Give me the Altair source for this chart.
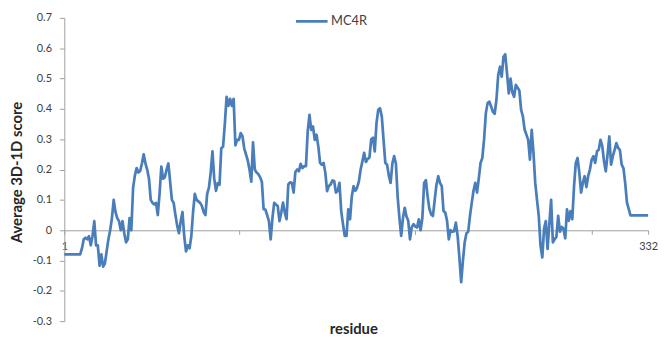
import altair as alt
import pandas as pd

# ---- data ----
residue = list(range(1, 333))
score = [
    -0.08, -0.08, -0.08, -0.08, -0.08, -0.08, -0.08, -0.08, -0.08, -0.08,
    -0.06, -0.03, -0.025, -0.03, -0.02, -0.05, -0.02, 0.03, -0.05, -0.05,
    -0.117, -0.08, -0.12, -0.11, -0.07, -0.03, 0.0, 0.04, 0.10, 0.06,
    0.04, 0.03, 0.0, 0.03, -0.01, -0.04, -0.03, 0.04, 0.0, 0.14,
    0.18, 0.205, 0.19, 0.195, 0.22, 0.25, 0.22, 0.2, 0.17, 0.1,
    0.09, 0.085, 0.09, 0.05, 0.12, 0.21, 0.17, 0.175, 0.2, 0.22,
    0.16, 0.1, 0.09, 0.05, 0.015, -0.01, 0.03, 0.06, -0.02, -0.07,
    -0.05, -0.06, -0.02, 0.06, 0.12, 0.1, 0.095, 0.09, 0.08, 0.06,
    0.05, 0.12, 0.14, 0.19, 0.26, 0.17, 0.13, 0.155, 0.15, 0.27,
    0.275, 0.35, 0.44, 0.41, 0.433, 0.41, 0.433, 0.28, 0.298, 0.298,
    0.32, 0.31, 0.27, 0.25, 0.23, 0.2, 0.16, 0.29, 0.2, 0.19,
    0.185, 0.175, 0.16, 0.069, 0.068, 0.05, 0.03, -0.03, 0.04, 0.09,
    0.085, 0.08, 0.03, 0.058, 0.091, 0.058, 0.036, 0.151, 0.158, 0.156,
    0.124, 0.192, 0.2, 0.194, 0.219, 0.205, 0.211, 0.211, 0.326, 0.38,
    0.331, 0.342, 0.298, 0.315, 0.277, 0.222, 0.216, 0.222, 0.189, 0.129,
    0.146, 0.151, 0.164, 0.162, 0.124, 0.129, 0.156, 0.063, 0.02, -0.019,
    -0.019, 0.069, 0.036, 0.112, 0.145, 0.13, 0.14, 0.16, 0.2, 0.227,
    0.255, 0.225, 0.235, 0.24, 0.3, 0.305, 0.26, 0.353, 0.397, 0.402,
    0.375, 0.298, 0.222, 0.216, 0.18, 0.156, 0.22, 0.244, 0.22, 0.11,
    0.04, -0.019, 0.04, 0.074, 0.045, 0.031, -0.03, 0.01, 0.02, 0.012,
    0.009, 0.036, 0.0, 0.04, 0.156, 0.165, 0.11, 0.07, 0.052, 0.047,
    0.1, 0.15, 0.178, 0.156, 0.145, 0.063, 0.058, 0.031, -0.03, 0.0,
    -0.005, -0.003, 0.025, -0.019, -0.09, -0.171, -0.1, -0.04, -0.01, -0.005,
    0.047, 0.09, 0.13, 0.156, 0.124, 0.171, 0.222, 0.238, 0.3, 0.386,
    0.419, 0.424, 0.408, 0.39, 0.384, 0.43, 0.511, 0.539, 0.506, 0.572,
    0.58, 0.517, 0.451, 0.5, 0.455, 0.44, 0.479, 0.47, 0.46, 0.397,
    0.375, 0.331, 0.315, 0.298, 0.233, 0.331, 0.255, 0.156, 0.1, 0.047,
    -0.051, -0.09, 0.005, 0.03, -0.062, 0.022, 0.1, -0.04, -0.03, -0.022,
    0.047, -0.005, 0.011, 0.005, -0.027, 0.069, 0.031, 0.063, 0.036, 0.145,
    0.222, 0.238, 0.189, 0.124, 0.156, 0.178, 0.142, 0.178, 0.2, 0.233,
    0.244, 0.222, 0.26, 0.265, 0.298, 0.277, 0.227, 0.194, 0.249, 0.309,
    0.216, 0.244, 0.265, 0.287, 0.271, 0.265, 0.216, 0.205, 0.156, 0.091,
    0.07, 0.049, 0.049, 0.049, 0.049, 0.049, 0.049, 0.049, 0.049, 0.049,
    0.049, 0.049,
]
series_name = ["MC4R"] * len(residue)
y_ticks = [-0.3, -0.2, -0.1, 0.0, 0.1, 0.2, 0.3, 0.4, 0.5, 0.6, 0.7]
x_ticks = [1, 100, 200, 300, 332]
x_title = ["residue"]
y_title = "Average 3D-1D score"

df = pd.DataFrame({"residue": residue, "score": score, "series": series_name})

FONT = "Lato"
AXIS_GRAY = "#A0A0A0"
LINE_BLUE = "#4A7EBB"

line = alt.Chart(df).mark_line(strokeWidth=2.75, strokeJoin="round").encode(
    x=alt.X(
        "residue:Q",
        scale=alt.Scale(domain=[1, 332], nice=False, zero=False),
        axis=alt.Axis(
            values=x_ticks,
            labelExpr="datum.value == 1 || datum.value == 332 ? datum.label : ''",
            offset=-92,
            title=None,
            grid=False,
            labelFlush=False,
            domainColor=AXIS_GRAY,
            tickColor=AXIS_GRAY,
            tickSize=4,
            labelFont=FONT,
            labelFontSize=11,
            labelColor="#404040",
            labelPadding=6,
        ),
    ),
    y=alt.Y(
        "score:Q",
        scale=alt.Scale(domain=[-0.3, 0.7], nice=False, zero=False),
        axis=alt.Axis(
            values=y_ticks,
            format=".1~f",
            labelExpr="replace(datum.label, '\u2212', '-')",
            title=y_title,
            titleFont=FONT,
            titleFontSize=15,
            titleFontWeight="bold",
            titleColor="#262626",
            titleX=-40,
            titleY=156,
            grid=False,
            domainColor=AXIS_GRAY,
            tickColor=AXIS_GRAY,
            tickSize=5,
            labelPadding=8,
            labelFont=FONT,
            labelFontSize=11,
            labelColor="#404040",
        ),
    ),
    color=alt.Color(
        "series:N",
        scale=alt.Scale(range=[LINE_BLUE]),
        legend=alt.Legend(
            orient="none",
            legendX=233,
            legendY=-14,
            title=None,
            symbolType="stroke",
            symbolStrokeWidth=3,
            symbolSize=1024,
            labelFont=FONT,
            labelFontSize=13,
            labelColor="#404040",
            labelOffset=2,
            padding=0,
        ),
    ),
)

xtitle = alt.Chart(pd.DataFrame({"t": x_title})).mark_text(
    font=FONT, fontSize=15, fontWeight="bold", color="#262626", baseline="middle", align="center"
).encode(x=alt.value(293), y=alt.value(315), text="t:N")

chart = alt.layer(line, xtitle).properties(
    width=591,
    height=307,
    padding={"left": 57, "top": 8, "right": 10, "bottom": 14},
    autosize=alt.AutoSizeParams(type="none"),
    background="white",
).configure_view(stroke=None)

chart.save("out.html", embed_options={"renderer": "svg", "actions": False})
